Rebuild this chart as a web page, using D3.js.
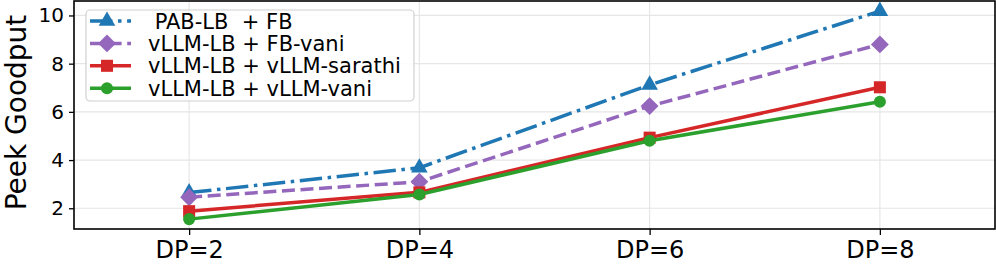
<!DOCTYPE html>
<html><head><meta charset="utf-8">
<script src="https://cdn.jsdelivr.net/npm/d3@7"></script>
<style>body{margin:0;background:#fff}svg{display:block;font-family:"DejaVu Sans",sans-serif}</style>
</head><body><svg id="c" width="996" height="267"></svg>
<script>
const categories = ["DP=2","DP=4","DP=6","DP=8"];
const seriesNames = [" PAB-LB  + FB","vLLM-LB + FB-vani","vLLM-LB + vLLM-sarathi","vLLM-LB + vLLM-vani"];
const pabFB = [2.65, 3.68, 7.12, 10.18];
const vllmFBvani = [2.46, 3.1, 6.24, 8.8];
const vllmSarathi = [1.88, 2.66, 4.93, 7.02];
const vllmVani = [1.55, 2.57, 4.8, 6.42];
const yTicks = [2,4,6,8,10];
const colors = ["#1f77b4","#9467bd","#d62728","#2ca02c"];
const dashes = ["22.4,5.6,3.5,5.6","13,5.6",null,null];
const markers = [d3.symbolTriangle, d3.symbolSquare, d3.symbolSquare, d3.symbolCircle];
const markerRot = [0, 45, 0, 0];
const markerSizes = [120, 160, 145, 115];
const seriesVals = [pabFB, vllmFBvani, vllmSarathi, vllmVani];

const svg = d3.select("#c");
const L=74, R=995, T=1, B=229;
const x = d3.scaleLinear().domain([-0.5,3.5]).range([L,R]);
const y = d3.scaleLinear().domain([1.14,10.6]).range([B,T]);

// grid
const g = svg.append("g");
g.selectAll(".gy").data(yTicks).enter().append("line")
 .attr("x1",L).attr("x2",R).attr("y1",d=>y(d)).attr("y2",d=>y(d))
 .attr("stroke","#e6e6e6").attr("stroke-width",1.2);
g.selectAll(".gx").data(categories).enter().append("line")
 .attr("x1",(d,i)=>x(i)).attr("x2",(d,i)=>x(i)).attr("y1",T).attr("y2",B)
 .attr("stroke","#e6e6e6").attr("stroke-width",1.2);

// axes
const yAxis = d3.axisLeft(y).tickValues(yTicks).tickSize(5).tickPadding(5);
const ya = svg.append("g").attr("transform",`translate(${L},0)`).call(yAxis);
ya.select(".domain").remove();
ya.selectAll("text").attr("font-size",20).attr("fill","#000").attr("font-family","DejaVu Sans");
ya.selectAll("line").attr("stroke","#000").attr("stroke-width",1.3);

const xAxis = d3.axisBottom(x).tickValues(d3.range(categories.length)).tickFormat(i=>categories[i]).tickSize(6).tickPadding(6);
const xa = svg.append("g").attr("transform",`translate(0,${B})`).call(xAxis);
xa.select(".domain").remove();
xa.selectAll("text").attr("font-size",24).attr("fill","#000").attr("font-family","DejaVu Sans");
xa.selectAll("line").attr("stroke","#000").attr("stroke-width",1.3);

// frame
svg.append("rect").attr("x",L).attr("y",T).attr("width",R-L).attr("height",B-T)
 .attr("fill","none").attr("stroke","#000").attr("stroke-width",1.6);

// y label
svg.append("text").attr("transform",`translate(26,112.5) rotate(-90)`)
 .attr("text-anchor","middle").attr("font-size",28).text("Peek Goodput");

// series
const line = d3.line().x((d,i)=>x(i)).y(d=>y(d));
seriesVals.forEach((vals,k)=>{
  svg.append("path").attr("d",line(vals)).attr("fill","none")
   .attr("stroke",colors[k]).attr("stroke-width",3.5)
   .attr("stroke-dasharray",dashes[k]);
  svg.selectAll(null).data(vals).enter().append("path")
   .attr("d",d3.symbol().type(markers[k]).size(markerSizes[k]))
   .attr("transform",(d,i)=>`translate(${x(i)},${y(d)}) rotate(${markerRot[k]})`)
   .attr("fill",colors[k]);
});

// legend
const lg = svg.append("g");
lg.append("rect").attr("x",86).attr("y",10).attr("width",328).attr("height",91)
 .attr("rx",4).attr("fill","#fff").attr("fill-opacity",0.85).attr("stroke","#d0d0d0").attr("stroke-width",1.2);
seriesNames.forEach((name,k)=>{
  const yy = 21 + k*22.4;
  lg.append("line").attr("x1",90).attr("x2",131).attr("y1",yy).attr("y2",yy)
   .attr("stroke",colors[k]).attr("stroke-width",3.5).attr("stroke-dasharray",dashes[k]);
  lg.append("path").attr("d",d3.symbol().type(markers[k]).size(markerSizes[k]))
   .attr("transform",`translate(107,${yy}) rotate(${markerRot[k]})`).attr("fill",colors[k]);
  lg.append("text").attr("x",148).attr("y",yy+7.5).attr("font-size",21)
   .attr("xml:space","preserve").style("white-space","pre").text(name);
});
</script></body></html>
